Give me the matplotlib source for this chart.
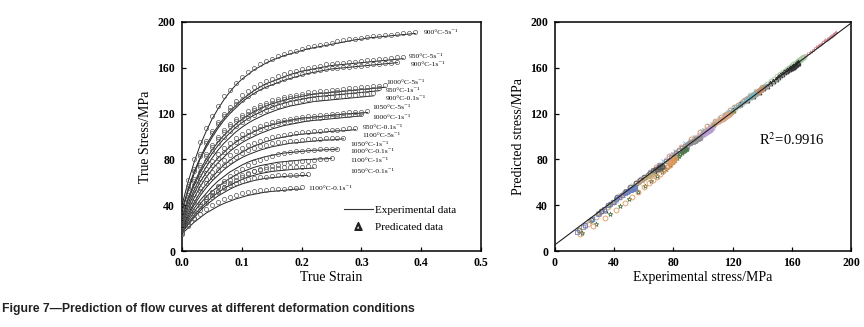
import numpy as np
import matplotlib
matplotlib.use("Agg")
import matplotlib.pyplot as plt
from matplotlib.lines import Line2D

plt.rcParams['font.family'] = ['Liberation Serif', 'DejaVu Serif']
plt.rcParams['mathtext.fontset'] = 'stix'

# ---------------- data ----------------
STRAIN = [0.00, 0.01, 0.02, 0.03, 0.04, 0.05, 0.06, 0.07, 0.08, 0.09,
          0.10, 0.11, 0.12, 0.13, 0.14, 0.15, 0.16, 0.17, 0.18, 0.19,
          0.20, 0.21, 0.22, 0.23, 0.24, 0.25, 0.26, 0.27, 0.28, 0.29,
          0.30, 0.31, 0.32, 0.33, 0.34, 0.35, 0.36, 0.37, 0.38, 0.39]

conditions = ["900°C-5s⁻¹", "950°C-5s⁻¹", "900°C-1s⁻¹", "1000°C-5s⁻¹", "950°C-1s⁻¹",
              "900°C-0.1s⁻¹", "1050°C-5s⁻¹", "1000°C-1s⁻¹", "950°C-0.1s⁻¹", "1100°C-5s⁻¹",
              "1050°C-1s⁻¹", "1000°C-0.1s⁻¹", "1100°C-1s⁻¹", "1050°C-0.1s⁻¹", "1100°C-0.1s⁻¹"]

exp_900_5 = [40, 60, 77, 92, 104, 115, 124, 132, 139, 145, 150, 154, 158, 161, 164, 166.5, 168.5, 170.5, 172, 173.5,
             175, 176.5, 177.5, 178.5, 179.5, 180.5, 181.5, 182.5, 183.5, 184.5, 185, 186, 186.5, 187, 187.5, 188, 188.5, 189, 189.5, 190]
pre_900_5 = [42, 62, 80, 95, 107, 118, 127, 135, 141, 147, 152, 156, 160, 163, 166, 168, 170, 172, 173.5, 175,
             176.5, 178, 179, 180, 181, 182, 183, 184, 185, 185.5, 186, 187, 187.5, 188, 188.5, 189, 189.5, 190, 190.5, 191]

exp_950_5 = [36, 54, 69, 81, 92, 101, 109, 116, 122, 127, 132, 136, 140, 143, 146, 148, 150, 152, 154, 155.5,
             157, 158, 159, 160, 161, 162, 162.5, 163, 163.5, 164, 164.5, 165, 165.5, 166, 166.5, 167, 167.5, 168]
pre_950_5 = [38, 57, 72, 85, 96, 105, 113, 120, 126, 131, 136, 139.5, 143, 146, 148.5, 150.5, 152.5, 154.5, 156, 157.5,
             159, 160, 161, 162, 163, 163.5, 164, 164.5, 165, 165.5, 166, 166.5, 167, 167.5, 168, 168.5, 169, 169.5]

exp_900_1 = [34, 52, 67, 80, 90, 99, 107, 114, 120, 125, 130, 134, 137.5, 140.5, 143, 145, 147, 149, 150.5, 152,
             153.5, 155, 156, 157, 158, 159, 159.5, 160, 160.5, 161, 161.5, 162, 162.5, 163, 163.5, 164, 164.5]
pre_900_1 = [36, 55, 70, 83, 94, 103, 111, 117.5, 123, 128, 132, 135.5, 139, 142, 144.5, 146.5, 148.5, 150.5, 152, 153.5,
             155, 156, 157, 158, 159, 159.5, 160, 160.5, 161, 161.5, 162, 162.5, 163, 163.5, 164, 164.5, 165]

exp_1000_5 = [30, 46, 59, 70, 80, 88, 95, 101, 106, 111, 115, 118.5, 121.5, 124, 126.5, 128.5, 130, 131.5, 133, 134,
              135, 136, 137, 137.5, 138, 138.5, 139, 139.5, 140, 140.5, 141, 141.5, 142, 142.5, 143]
pre_1000_5 = [32, 49, 63, 75, 85, 93, 100, 106, 111, 115, 119, 122, 125, 127.5, 129.5, 131.5, 133, 134.5, 135.5, 136.5,
              137.5, 138.5, 139, 139.5, 140, 140.5, 141, 141.5, 142, 142.5, 143, 143.5, 144, 144.5, 145]

exp_950_1 = [28, 44, 57, 68, 77, 85, 92, 98, 103, 108, 112, 115.5, 118.5, 121, 123.5, 125.5, 127.5, 129, 130.5, 131.5,
             132.5, 133.5, 134.5, 135, 135.5, 136, 136.5, 137, 137.5, 138, 138.5, 139, 139.5, 140]
pre_950_1 = [30, 47, 61, 73, 83, 91, 98, 104, 109, 113.5, 117, 120, 123, 125.5, 127.5, 129.5, 131, 132.5, 133.5, 134.5,
             135.5, 136, 136.5, 137, 137.5, 138, 138.5, 139, 139.5, 140, 140.5, 141, 141.5, 142]

exp_900_01 = [26, 41, 53, 64, 73, 81, 88, 94, 99, 104, 108, 111.5, 114.5, 117, 119.5, 121.5, 123.5, 125, 126.5, 127.5,
              128.5, 129.5, 130.5, 131, 131.5, 132, 132.5, 133, 133.5, 134, 134.5, 135, 135.5]
pre_900_01 = [28, 44, 58, 69, 79, 87, 94, 100, 105, 109.5, 113, 116, 119, 121.5, 123.5, 125.5, 127, 128.5, 129.5, 130.5,
              131.5, 132.5, 133, 133.5, 134, 134.5, 135, 135.5, 136, 136.5, 137, 137.5, 138]

exp_1050_5 = [24, 38, 50, 60, 68, 75, 81, 86, 91, 95, 98.5, 101.5, 104, 106.5, 108.5, 110, 111.5, 113, 114, 115,
              116, 116.5, 117, 117.5, 118, 118.5, 119, 119.5, 120, 120, 120.5, 121]
pre_1050_5 = [26, 41, 54, 64, 72, 79, 85, 90, 94.5, 98.5, 102, 105, 107.5, 109.5, 111, 112.5, 113.5, 114.5, 115.5, 116.5,
              117, 117.5, 118, 118.5, 119, 119.5, 120, 120.5, 121, 121, 121.5, 122]

exp_1000_1 = [22, 35, 46, 56, 64, 71, 77, 82, 87, 91, 94.5, 97.5, 100, 102.5, 104.5, 106.5, 108, 109.5, 110.5, 111.5,
              112.5, 113.5, 114, 114.5, 115, 115.5, 116, 116.5, 117, 117.5, 118]
pre_1000_1 = [24, 38, 50, 60, 68, 75, 81, 86.5, 91, 95, 98.5, 101.5, 104, 106.5, 108.5, 110, 111.5, 112.5, 113.5, 114.5,
              115, 115.5, 116, 116.5, 117, 117.5, 118, 118.5, 119, 119.5, 120]

exp_950_01 = [20, 32, 42, 51, 58, 64, 70, 75, 79, 83, 86, 89, 91.5, 93.5, 95.5, 97, 98.5, 99.5, 100.5, 101.5,
              102, 102.5, 103, 103.5, 104, 104.5, 105, 105, 105.5, 106]
pre_950_01 = [22, 35, 46, 55, 63, 69, 75, 79.5, 83.5, 87, 90, 92.5, 94.5, 96.5, 98, 99.5, 100.5, 101.5, 102.5, 103,
              103.5, 104, 104.5, 105, 105.5, 106, 106, 106.5, 107, 107]

exp_1100_5 = [19, 30, 40, 48, 55, 61, 66, 71, 75, 78.5, 81.5, 84, 86, 88, 89.5, 91, 92, 93, 94, 94.5,
              95, 95.5, 96, 96.5, 97, 97, 97.5, 98]
pre_1100_5 = [21, 33, 43, 52, 59, 65, 70.5, 75, 79, 82.5, 85.5, 88, 90, 91.5, 93, 94, 95, 95.5, 96, 96.5,
              97, 97.5, 98, 98, 98.5, 98.5, 99, 99]

exp_1050_1 = [18, 28, 37, 44, 50, 56, 61, 65, 69, 72, 75, 77.5, 79.5, 81, 82.5, 83.5, 84.5, 85.5, 86, 86.5,
              87, 87.5, 88, 88, 88.5, 88.5, 89]
pre_1050_1 = [16, 24, 32, 39, 45.5, 51.5, 57, 61.5, 65.5, 69, 72, 75, 77.5, 79.5, 81.5, 83, 84.5, 85.5, 86.5, 87,
              87.5, 88, 88.5, 89, 89, 89.5, 89.5]

exp_1000_01 = [17, 26, 34, 41, 47, 52, 56, 60, 63.5, 66.5, 69, 71, 73, 74.5, 75.5, 76.5, 77.5, 78, 78.5, 79,
               79.5, 80, 80, 80.5, 80.5, 81]
pre_1000_01 = [15, 22, 29, 36, 42, 47, 51.5, 55.5, 59, 62, 65, 67.5, 69.5, 71.5, 73, 74.5, 75.5, 76.5, 77.5, 78,
               78.5, 79, 79.5, 80, 80.5, 81]

exp_1100_1 = [16, 24, 31, 37, 42, 47, 51, 54.5, 57.5, 60, 62.5, 64.5, 66, 67.5, 68.5, 69.5, 70, 70.5, 71, 71.5,
              72, 72, 72.5]
pre_1100_1 = [18, 27, 35, 41, 47, 51.5, 55.5, 59, 62, 64.5, 66.5, 68, 69.5, 70.5, 71.5, 72, 72.5, 73, 73, 73.5,
              73.5, 74, 74]

exp_1050_01 = [16, 23, 29, 35, 40, 44, 48, 51, 54, 56.5, 58.5, 60, 61.5, 62.5, 63.5, 64, 64.5, 65, 65.5, 65.5,
               66, 66]
pre_1050_01 = [18, 26, 33, 39, 44, 48.5, 52, 55, 57.5, 59.5, 61, 62.5, 63.5, 64.5, 65, 65.5, 66, 66, 66.5, 66.5,
               67, 67]

exp_1100_01 = [15, 20, 25, 29, 33, 36, 39, 41.5, 43.5, 45.5, 47, 48.5, 49.5, 50.5, 51.5, 52, 52.5, 53, 53.5, 54, 54]
pre_1100_01 = [17, 23, 28, 32.5, 36.5, 40, 43, 45.5, 47.5, 49, 50.5, 51.5, 52.5, 53, 53.5, 54, 54.5, 54.5, 55, 55, 55.5]

experimental = [exp_900_5, exp_950_5, exp_900_1, exp_1000_5, exp_950_1, exp_900_01, exp_1050_5, exp_1000_1,
                exp_950_01, exp_1100_5, exp_1050_1, exp_1000_01, exp_1100_1, exp_1050_01, exp_1100_01]
predicted = [pre_900_5, pre_950_5, pre_900_1, pre_1000_5, pre_950_1, pre_900_01, pre_1050_5, pre_1000_1,
             pre_950_01, pre_1100_5, pre_1050_1, pre_1000_01, pre_1100_1, pre_1050_01, pre_1100_01]

# curve label anchor positions (annotation placement)
label_x = [0.405, 0.380, 0.382, 0.341, 0.341, 0.341, 0.319, 0.319, 0.302, 0.302, 0.281, 0.281, 0.281, 0.281, 0.212]
label_y = [191, 170, 163, 147, 140, 133, 125, 117, 108, 100.5, 93, 87, 79, 69, 55]

# linear fit of predicted vs experimental
fit_x = [0, 200]
fit_y = [5.5, 199]
r2_text = "R$^2$=0.9916"

# scatter styles for the right panel
sc_colors = ['#d48a96', '#a8c8a0', '#303030', '#8c8c8c', '#c89070', '#70b8c8', '#9a9a50', '#e0a888',
             '#b89ad4', '#909090', '#507850', '#e0985a', '#585858', '#c0a878', '#6a80c0']
sc_markers = ['+', 'o', '^', 'x', 'o', 'x', '+', 'o', 'o', 's', '*', 'o', 'o', 'x', 's']

# ---------------- figure ----------------
fig = plt.figure(figsize=(8.64, 3.27), dpi=100)
ax1 = fig.add_axes([182 / 864, 1 - 251 / 327, 299 / 864, 229 / 327])
ax2 = fig.add_axes([555 / 864, 1 - 251 / 327, 296 / 864, 229 / 327])

for exp, pre in zip(experimental, predicted):
    n = len(exp)
    ax1.plot(STRAIN[:n], exp, color='#222222', lw=0.7, zorder=2)
    ax1.plot(STRAIN[:len(pre)], pre, ls='none', marker='o', ms=3.0, mfc='none',
             mec='#555555', mew=0.5, zorder=3)

for name, lx, ly in zip(conditions, label_x, label_y):
    ax1.text(lx, ly, name, fontsize=5.4, va='center', ha='left', color='#111111')

ax1.set_xlim(0, 0.5)
ax1.set_ylim(0, 200)
ax1.set_xticks(np.arange(0, 0.51, 0.1))
ax1.set_xticklabels([f"{v:.1f}" for v in np.arange(0, 0.51, 0.1)])
ax1.set_yticks(np.arange(0, 201, 40))
ax1.set_xlabel("True Strain", fontsize=10, labelpad=2)
ax1.set_ylabel("True Stress/MPa", fontsize=10, labelpad=4)

handles = [Line2D([], [], color='#333333', lw=0.8),
           Line2D([], [], ls='none', marker=r'$\Delta$', color='#222222', ms=5.5)]
ax1.legend(handles, ["Experimental data", "Predicated data"], loc='upper left',
           bbox_to_anchor=(0.515, 0.235), frameon=False, fontsize=8,
           handlelength=2.6, handletextpad=0.2, labelspacing=0.7, borderpad=0.2)

for exp, pre, c, m in zip(experimental, predicted, sc_colors, sc_markers):
    if m in ('+', 'x'):
        ax2.plot(exp, pre, ls='none', marker=m, ms=3.5, color=c, mew=0.6, zorder=3)
    else:
        ax2.plot(exp, pre, ls='none', marker=m, ms=3.5, mfc='none', mec=c, mew=0.6, zorder=3)
ax2.plot(fit_x, fit_y, color='#222222', lw=0.8, zorder=4)
ax2.text(138, 97, r2_text, fontsize=10.5, va='center', ha='left')

ax2.set_xlim(0, 200)
ax2.set_ylim(0, 200)
ax2.set_xticks(np.arange(0, 201, 40))
ax2.set_yticks(np.arange(0, 201, 40))
ax2.set_xlabel("Experimental stress/MPa", fontsize=10, labelpad=2)
ax2.set_ylabel("Predicted stress/MPa", fontsize=10, labelpad=4)

for ax in (ax1, ax2):
    ax.tick_params(direction='in', length=3, width=0.9, labelsize=8.5)
    ax.tick_params(axis='x', pad=4)
    ax.tick_params(axis='y', pad=5)
    for s in ax.spines.values():
        s.set_linewidth(1.1)
    for lab in ax.get_xticklabels() + ax.get_yticklabels():
        lab.set_fontweight('bold')

fig.text(2 / 864, 1 - 309 / 327, "Figure 7\u2014Prediction of flow curves at different deformation conditions",
         fontsize=8.8, fontweight='bold', family='Liberation Sans', ha='left', va='center', color='#222222')

fig.savefig("out.png", dpi=100)
